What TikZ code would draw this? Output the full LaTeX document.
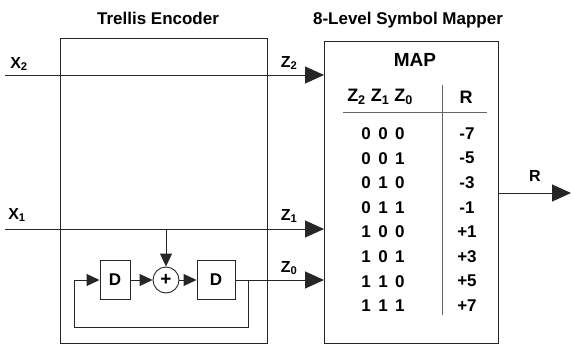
\documentclass[tikz,border=0pt]{standalone}
\usepackage{fontspec}
\setmainfont{Liberation Sans}
\usetikzlibrary{arrows.meta}
\newcommand{\tribit}[3]{#1\hspace{7.5pt}#2\hspace{7.5pt}#3}
\newcommand{\fsz}[1]{\fontsize{#1}{#1}\selectfont\bfseries}
\tikzset{
  wire/.style={draw=black!85,line width=0.9pt},
  bigflow/.style={wire,-{Triangle[length=19pt,width=17pt]}},
  smallflow/.style={wire,-{Triangle[length=13pt,width=12pt]}},
  unit/.style={draw=black!85,line width=0.9pt,inner sep=0pt,anchor=north west},
  delay/.style={draw=black!85,line width=0.9pt,inner sep=0pt,minimum height=39pt,font=\fsz{17}},
  adder/.style={circle,draw=black!85,line width=0.9pt,inner sep=0pt,minimum size=26pt,font=\fsz{19}},
  title/.style={font=\fsz{17}},
  sig/.style={font=\fsz{16},inner sep=0pt},
  cell/.style={font=\fsz{17},inner sep=0pt},
  rule/.style={draw=black!60,line width=0.7pt},
}

\begin{document}
\begin{tikzpicture}[x=1pt,y=-1pt]
  \useasboundingbox (0,0) rectangle (572,345);
  \node[title] (tenc) at (158,18) {Trellis Encoder};
  \node[title] (tmap) at (408,20) {8-Level Symbol Mapper};
  \node[unit,minimum width=207pt,minimum height=305pt] (enc) at (60,38) {};
  \node[unit,minimum width=174pt,minimum height=302pt] (map) at (324,41) {};
  % inputs
  \coordinate (x2in) at (5,75);
  \coordinate (x1in) at (5,229);
  \draw[bigflow] (x2in) -- (x2in -| map.west);
  \draw[bigflow] (x1in) -- (x1in -| map.west);
  \node[sig] (lx2) at (19,64) {X\textsubscript{2}};
  \node[sig] (lz2) at (289,63) {Z\textsubscript{2}};
  \node[sig] (lx1) at (17,215) {X\textsubscript{1}};
  \node[sig] (lz1) at (289,216) {Z\textsubscript{1}};
  \node[sig] (lz0) at (289,268) {Z\textsubscript{0}};
  % feedback part
  \node[delay,minimum width=30pt] (d1) at (115,280) {D};
  \node[adder] (add) at (166,280) {+};
  \node[delay,minimum width=38pt] (d2) at (216,280) {D};
  \draw[smallflow] (add |- x1in) -- (add);
  \draw[smallflow] (d1) -- (add);
  \draw[smallflow] (add) -- (d2);
  \draw[bigflow] (d2.east) -- (d2.east -| map.west);
  \coordinate (fb) at (248,280);
  \coordinate (loop) at (74,327);
  \draw[smallflow] (fb) |- (loop) |- (d1.west);
  % mapper table
  \node[font=\fsz{19},inner sep=0pt] (maph) at (415,60) {MAP};
  \node[font=\fsz{18},inner sep=0pt] (hz) at (380,97) {Z\textsubscript{2} Z\textsubscript{1} Z\textsubscript{0}};
  \node[font=\fsz{18},inner sep=0pt] (hr) at (466,97) {R};
  \draw[rule] (343,112) -- (487,112);
  \draw[rule] (442,85) -- (442,315);
  \foreach \a/\b/\c/\lvl [count=\i] in {0/0/0/-7,0/0/1/-5,0/1/0/-3,0/1/1/-1,1/0/0/+1,1/0/1/+3,1/1/0/+5,1/1/1/+7}{
    \node[cell] (bits\i) at (383,109+24.6*\i) {\tribit{\a}{\b}{\c}};
    \node[cell] (lvl\i) at (467,109+24.6*\i) {\lvl};
  }
  % output
  \coordinate (rout) at (571,193);
  \draw[bigflow] (rout -| map.east) -- (rout);
  \node[sig] (lr) at (535,176) {R};
\end{tikzpicture}
\end{document}
